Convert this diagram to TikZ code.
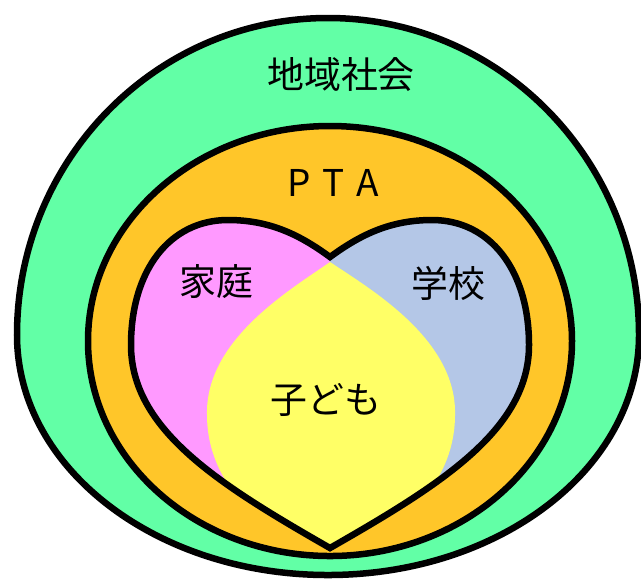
\documentclass[tikz,border=0pt]{standalone}
\usepackage{fontspec}
\setmainfont{Noto Sans CJK JP}
\definecolor{cGreen}{RGB}{98,255,166}
\definecolor{cOrange}{RGB}{255,198,41}
\definecolor{cPink}{RGB}{255,153,255}
\definecolor{cBlue}{RGB}{180,199,231}
\definecolor{cYellow}{RGB}{255,255,102}
\begin{document}
\begin{tikzpicture}[x=0.02cm,y=-0.02cm,line width=3.7pt,
  lbl/.style={font=\fontsize{21pt}{24pt}\selectfont,text=black,inner sep=0pt}]
\useasboundingbox (0,0) rectangle (641,579);
\def\heartpath{(330,548) .. controls (220,485) and (131,430) .. (131,345)
  .. controls (131,270) and (170,220) .. (228,220)
  .. controls (270,220) and (300,235) .. (330,257)
  .. controls (360,235) and (390,220) .. (432,220)
  .. controls (490,220) and (529,270) .. (529,345)
  .. controls (529,430) and (440,485) .. (330,548) -- cycle}
% community
\draw[fill=cGreen] (17,335) .. controls (17,160) and (156,18) .. (328,18)
  .. controls (500,18) and (639,160) .. (639,335)
  .. controls (639,468) and (500,575) .. (328,575)
  .. controls (156,575) and (17,468) .. (17,335) -- cycle;
% PTA
\draw[fill=cOrange] (330,341) ellipse [x radius=242, y radius=215];
% heart
\begin{scope}
  \clip \heartpath;
  \fill[cPink] (100,200) rectangle (330,560);
  \fill[cBlue] (330,200) rectangle (560,560);
  \fill[cYellow] (330,262) .. controls (290,290) and (205,340) .. (207,415)
    .. controls (207,483.5) and (262.5,539) .. (331,539)
    .. controls (399.5,539) and (455,483.5) .. (455,415)
    .. controls (457,340) and (372,290) .. (330,262) -- cycle;
  \fill[cYellow] (250,500) -- (331,565) -- (412,500) -- cycle;
\end{scope}
\draw \heartpath;
% labels
\node[lbl] (chiiki) at (341,75) {地域社会};
\node[lbl] (pta) at (333,183) {\addfontfeature{LetterSpace=10}P T A};
\node[lbl] (katei) at (216,282) {家庭};
\node[lbl] (gakko) at (448,283) {学校};
\node[lbl] (kodomo) at (326,400) {子ども};
\end{tikzpicture}
\end{document}
